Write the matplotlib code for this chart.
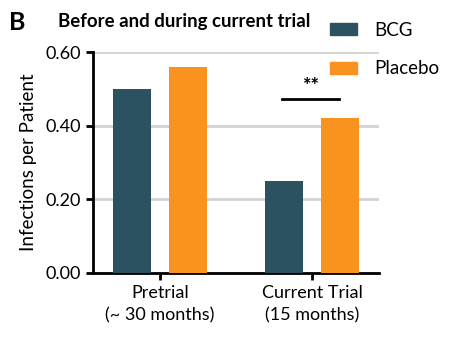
import numpy as np
import matplotlib
matplotlib.use("Agg")
import matplotlib.pyplot as plt
from matplotlib.patches import Rectangle

# data
groups = ["Pretrial\n(~ 30 months)", "Current Trial\n(15 months)"]
bcg = [0.50, 0.25]
placebo = [0.56, 0.42]
yticks = [0.0, 0.2, 0.4, 0.6]

plt.rcParams["font.family"] = ["Lato", "DejaVu Sans"]

fig = plt.figure(figsize=(4.6, 3.45), dpi=100)
ax = fig.add_axes([0.202, 0.209, 0.622, 0.640])

x = np.arange(len(groups))
w = 0.25
off = 0.185
ax.bar(x - off, bcg, w, color="#2c5261", label="BCG", zorder=3)
ax.bar(x + off, placebo, w, color="#f7931e", label="Placebo", zorder=3)

ax.set_xlim(-0.44, 1.44)
ax.set_ylim(0, 0.6)
ax.set_yticks(yticks)
ax.set_yticklabels([f"{v:.2f}" for v in yticks], fontsize=13)
ax.set_xticks(x)
ax.set_xticklabels(groups, fontsize=13, linespacing=1.5)
ax.yaxis.grid(True, color="#d3d3d3", lw=2, zorder=0)
ax.set_axisbelow(True)
for s in ["top", "right"]:
    ax.spines[s].set_visible(False)
for s in ["left", "bottom"]:
    ax.spines[s].set_linewidth(2)
ax.tick_params(axis="both", width=2, length=5, direction="out")
ax.set_ylabel("Infections per Patient", fontsize=13.5, labelpad=6)

# significance
ax.plot([1 - 0.2, 1 + 0.18], [0.473, 0.473], color="black", lw=2, clip_on=False)
ax.text(1 - 0.01, 0.478, "**", ha="center", va="bottom", fontsize=14.5, fontweight="bold")

# legend
fig.patches.append(Rectangle((330 / 460, 1 - 35 / 345), 27 / 460, 12 / 345,
                             transform=fig.transFigure, color="#2c5261"))
fig.patches.append(Rectangle((330 / 460, 1 - 74 / 345), 27 / 460, 12 / 345,
                             transform=fig.transFigure, color="#f7931e"))
fig.text(374 / 460, 1 - 30 / 345, "BCG", fontsize=13.5, va="center")
fig.text(374 / 460, 1 - 68 / 345, "Placebo", fontsize=13.5, va="center")

fig.text(9 / 460, 1 - 23 / 345, "B", fontsize=18, fontweight="bold", va="center")
fig.text(58 / 460, 1 - 22 / 345, "Before and during current trial", fontsize=13.4,
         fontweight="bold", va="center")

fig.savefig("out.png", dpi=100)
